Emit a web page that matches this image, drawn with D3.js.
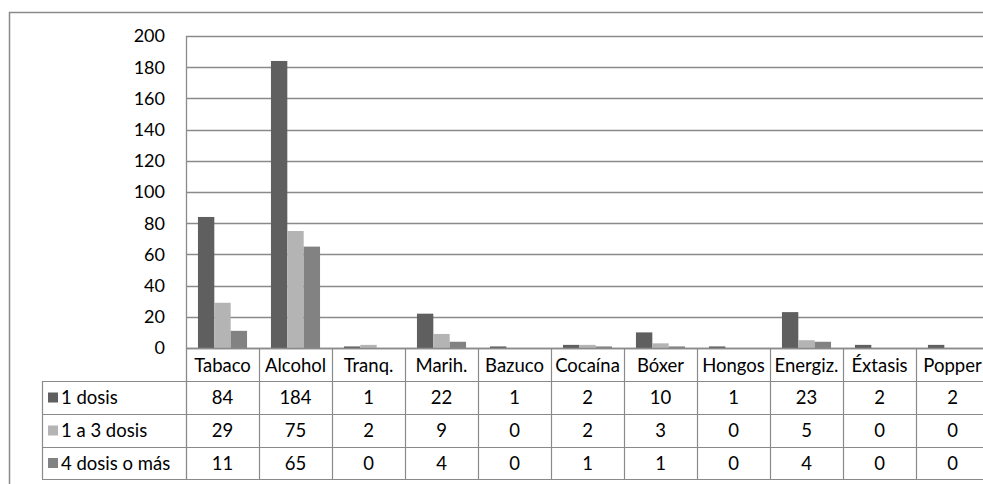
<!DOCTYPE html>
<html><head><meta charset="utf-8">
<script src="https://cdn.jsdelivr.net/npm/d3@7"></script>
<style>
html,body{margin:0;padding:0;background:#fff;overflow:hidden}
text{font-family:Lato,"Open Sans",sans-serif;fill:#000}
</style></head>
<body>
<script>
const categories = ["Tabaco","Alcohol","Tranq.","Marih.","Bazuco","Cocaína","Bóxer","Hongos","Energiz.","Éxtasis","Popper"];
const seriesNames = ["1 dosis","1 a 3 dosis","4 dosis o más"];
const dosis1 = [84,184,1,22,1,2,10,1,23,2,2];
const dosis1a3 = [29,75,2,9,0,2,3,0,5,0,0];
const dosis4 = [11,65,0,4,0,1,1,0,4,0,0];
const yTicks = [0,20,40,60,80,100,120,140,160,180,200];
const colors = ["#5f5f5f","#b4b4b4","#828282"];

const series = [dosis1, dosis1a3, dosis4];
const W = 983, H = 484, FS = 18.5, FA = 18;
const svg = d3.select("body").append("svg").attr("width",W).attr("height",H);

const x0 = 186, x1 = 989, yTop = 36, yBot = 348;
const x = d3.scaleBand().domain(categories).range([x0,x1]).paddingInner(0).paddingOuter(0);
const xs = d3.scaleBand().domain(d3.range(series.length)).range([0,x.bandwidth()]).paddingOuter(0.73).paddingInner(0);
const y = d3.scaleLinear().domain([0,200]).range([yBot,yTop]);
const lineC = "#8a8a8a";

svg.append("path").attr("d",`M9.5,${H}V12.5H${W}`).attr("fill","none").attr("stroke",lineC).attr("stroke-width",1.5);

svg.append("g").selectAll("line").data(yTicks).join("line")
  .attr("x1",x0).attr("x2",x1).attr("y1",d=>Math.round(y(d))+0.5).attr("y2",d=>Math.round(y(d))+0.5)
  .attr("stroke",lineC).attr("stroke-width",1.3);

svg.append("g").selectAll("text").data(yTicks).join("text")
  .attr("x",165).attr("y",d=>y(d)).attr("dy","0.36em").attr("text-anchor","end")
  .attr("font-size",FA).text(d=>d);

series.forEach((s,i)=>{
  svg.append("g").selectAll("rect").data(s).join("rect")
    .attr("x",(d,j)=>x(categories[j])+xs(i))
    .attr("width",xs.bandwidth())
    .attr("y",d=>y(d)).attr("height",d=>yBot-y(d))
    .attr("fill",colors[i]);
});

svg.append("line").attr("x1",x0+0.5).attr("x2",x0+0.5).attr("y1",yTop).attr("y2",479)
  .attr("stroke",lineC).attr("stroke-width",1.3);

const rowY = [348,381,414,447,479];
const legL = 42;
const tbl = svg.append("g");
tbl.append("line").attr("x1",x0).attr("x2",x1).attr("y1",rowY[0]+0.5).attr("y2",rowY[0]+0.5).attr("stroke",lineC).attr("stroke-width",1.3);
[1,2,3,4].forEach(k=>{
  tbl.append("line").attr("x1",legL).attr("x2",x1).attr("y1",rowY[k]+0.5).attr("y2",rowY[k]+0.5).attr("stroke",lineC).attr("stroke-width",1.2);
});
tbl.append("line").attr("x1",legL+0.5).attr("x2",legL+0.5).attr("y1",rowY[1]).attr("y2",rowY[4]).attr("stroke",lineC).attr("stroke-width",1.2);
categories.forEach((c,j)=>{
  if(j>0) tbl.append("line").attr("x1",x(c)+0.5).attr("x2",x(c)+0.5).attr("y1",rowY[0]).attr("y2",rowY[4]).attr("stroke",lineC).attr("stroke-width",1.2);
});
tbl.selectAll("text.cat").data(categories).join("text").attr("class","cat")
  .attr("x",d=>x(d)+x.bandwidth()/2).attr("y",(rowY[0]+rowY[1])/2+1).attr("dy","0.36em")
  .attr("text-anchor","middle").attr("font-size",FS).text(d=>d);
series.forEach((s,i)=>{
  const cy = (rowY[i+1]+rowY[i+2])/2;
  tbl.append("rect").attr("x",48).attr("y",cy-5).attr("width",10).attr("height",10).attr("fill",colors[i]);
  tbl.append("text").attr("x",61).attr("y",cy).attr("dy","0.36em").attr("font-size",FS).text(seriesNames[i]);
  tbl.append("g").selectAll("text").data(s).join("text")
    .attr("x",(d,j)=>x(categories[j])+x.bandwidth()/2).attr("y",cy).attr("dy","0.36em")
    .attr("text-anchor","middle").attr("font-size",FS).text(d=>d);
});
</script>
</body></html>
